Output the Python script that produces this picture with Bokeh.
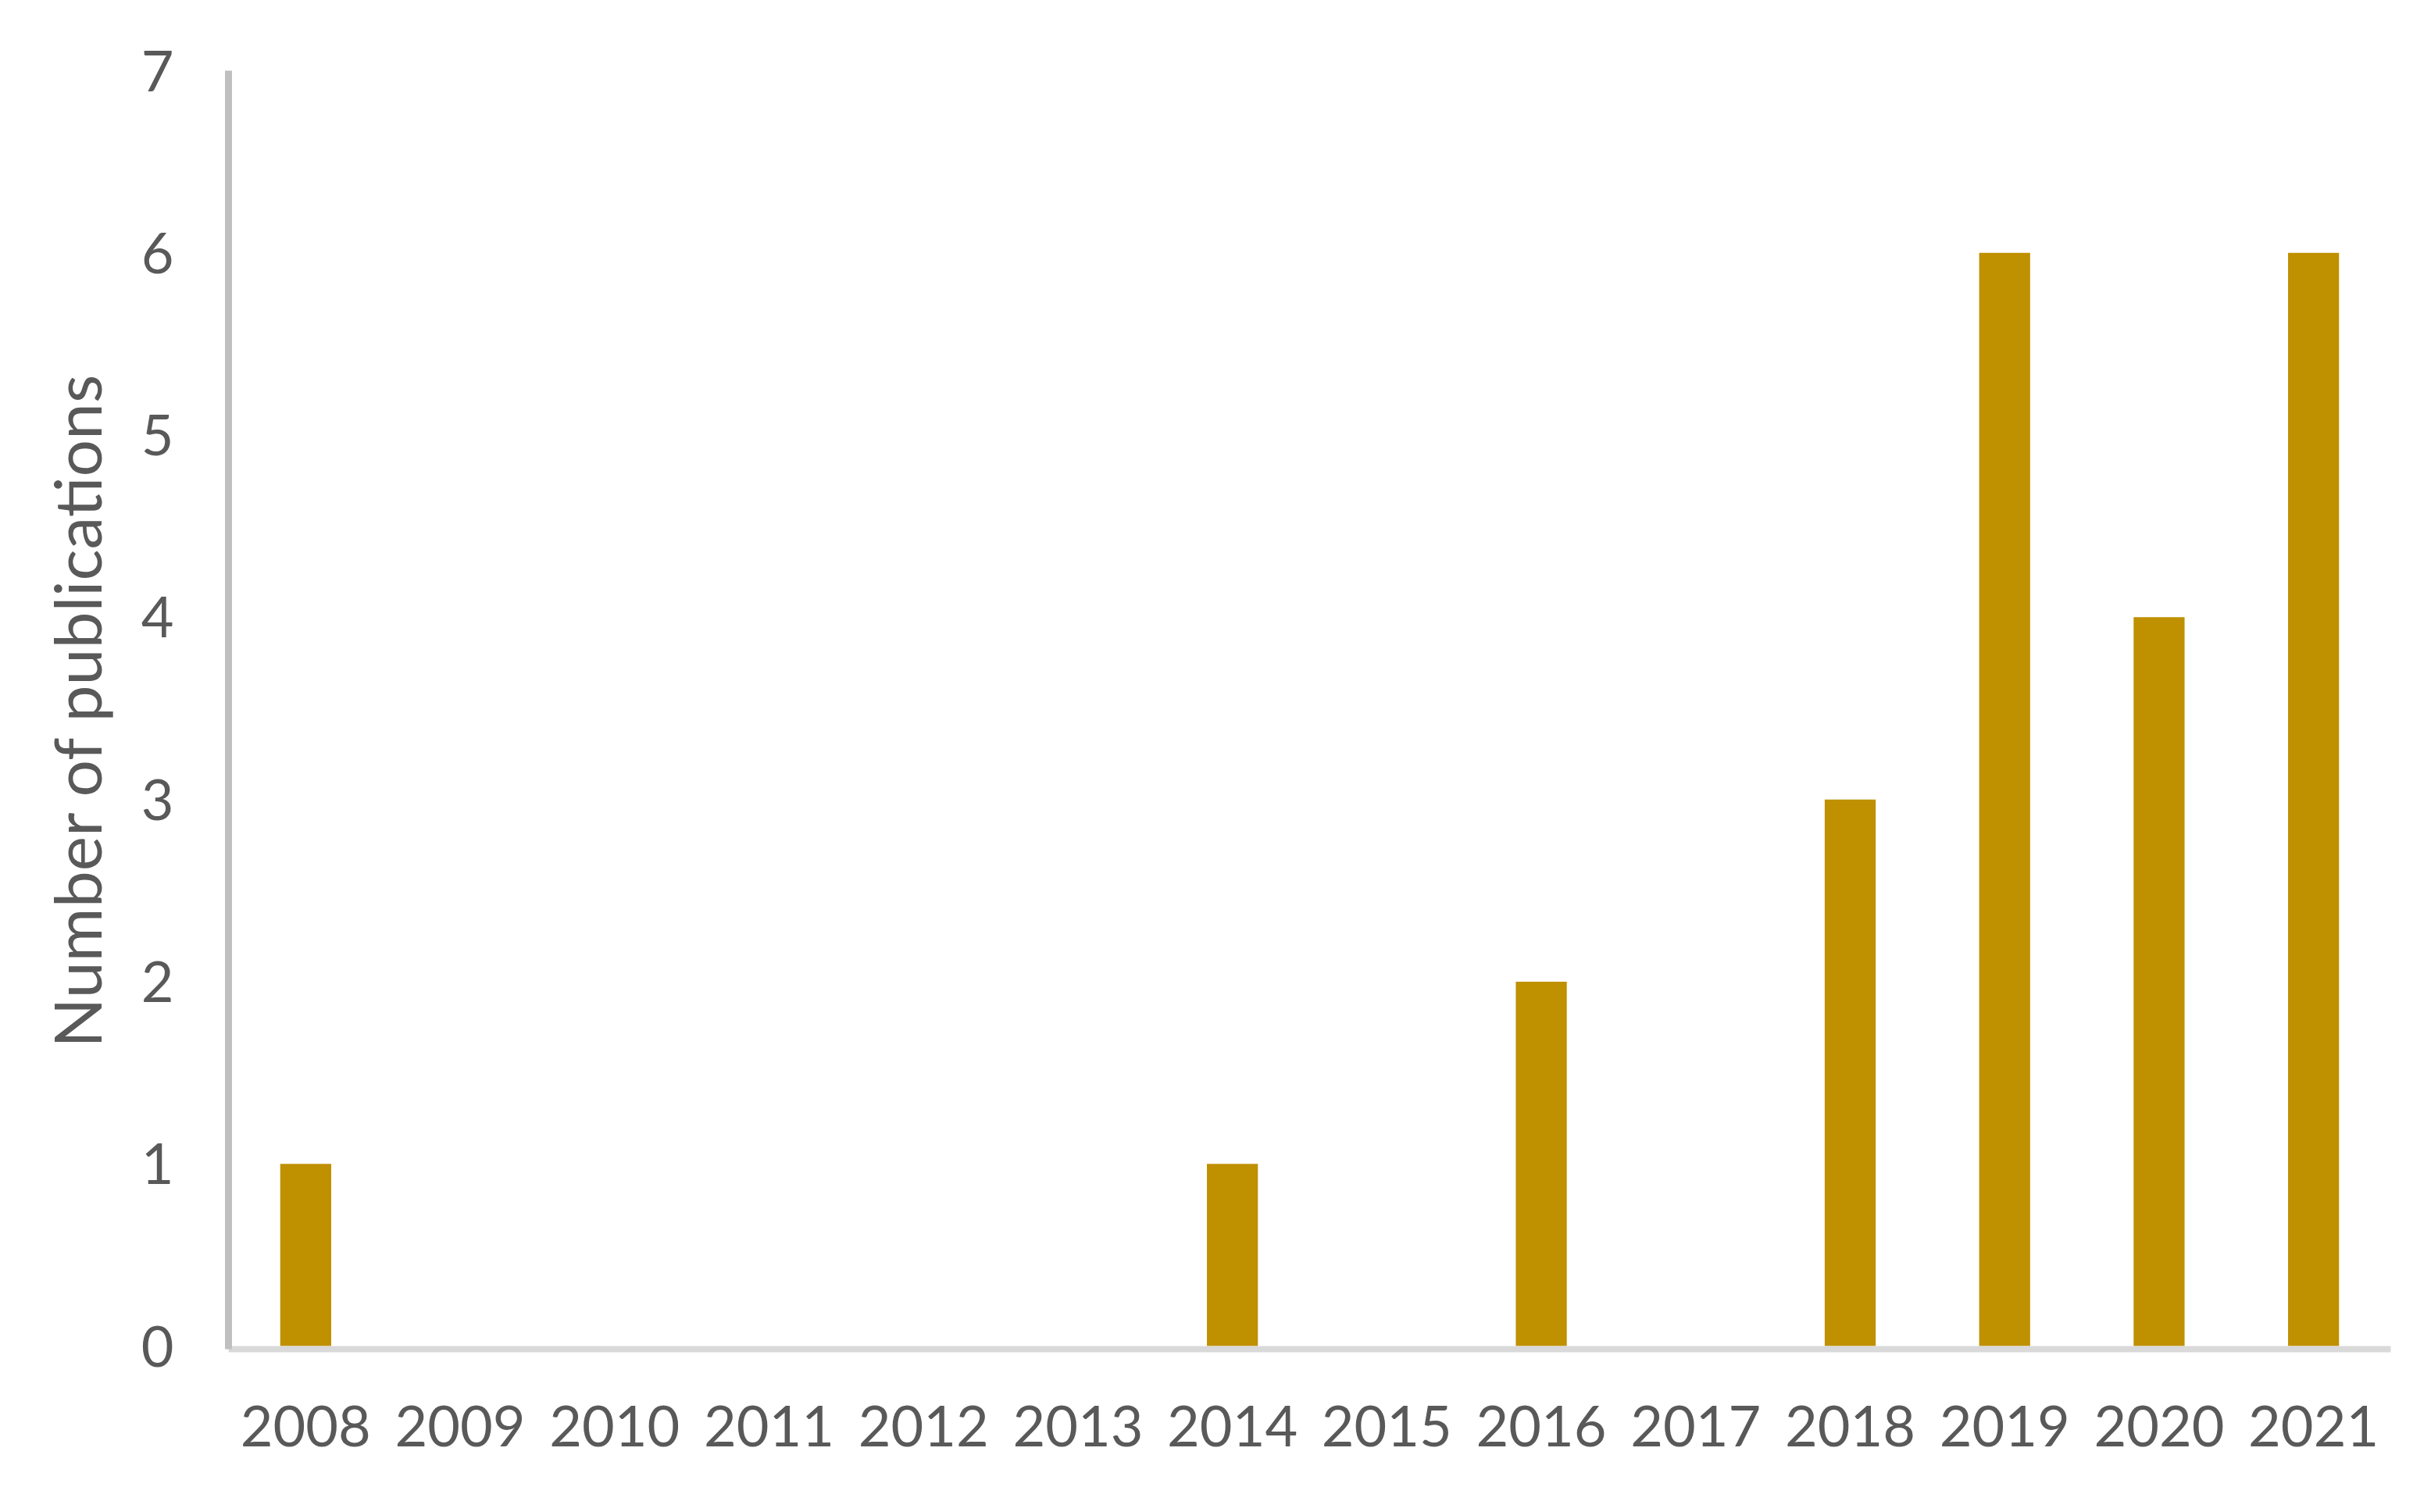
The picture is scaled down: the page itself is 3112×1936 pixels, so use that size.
from bokeh.plotting import figure
from bokeh.models import FactorRange, Range1d, FixedTicker, ColumnDataSource
from bokeh.embed import file_html
from bokeh.resources import INLINE

years = ["2008", "2009", "2010", "2011", "2012", "2013", "2014",
         "2015", "2016", "2017", "2018", "2019", "2020", "2021"]
publications = [1, 0, 0, 0, 0, 0, 1, 0, 2, 0, 3, 6, 4, 6]
y_ticks = [0, 1, 2, 3, 4, 5, 6, 7]

BAR_COLOR = "#BF9000"
TEXT_COLOR = "#595959"
FONT = "Lato"

src = ColumnDataSource(dict(year=years, n=publications))

p = figure(
    width=3096, height=1920,
    x_range=FactorRange(*years, range_padding=0),
    y_range=Range1d(-0.017, 7),
    output_backend="svg", toolbar_location=None,
    min_border_left=292, min_border_right=36,
    min_border_top=90, min_border_bottom=193,
)
p.vbar(x="year", top="n", bottom=0, width=0.33, source=src,
       fill_color=BAR_COLOR, line_color=None)

p.outline_line_color = None
p.xgrid.grid_line_color = None
p.ygrid.grid_line_color = None
p.background_fill_color = "white"
p.border_fill_color = "white"

# y axis
ya = p.yaxis[0]
ya.ticker = FixedTicker(ticks=y_ticks)
ya.axis_line_color = "#BFBFBF"
ya.axis_line_width = 9
ya.major_tick_line_color = None
ya.minor_tick_line_color = None
ya.major_tick_out = 0
ya.major_tick_in = 0
ya.minor_tick_out = 0
ya.major_label_standoff = 70
ya.major_label_text_font = FONT
ya.major_label_text_font_size = "72px"
ya.major_label_text_color = TEXT_COLOR
ya.axis_label = "Number of publications"
ya.axis_label_text_font = FONT
ya.axis_label_text_font_size = "84px"
ya.axis_label_text_font_style = "normal"
ya.axis_label_text_color = TEXT_COLOR
ya.axis_label_standoff = 30

# x axis
xa = p.xaxis[0]
xa.axis_line_color = "#D9D9D9"
xa.axis_line_width = 8
xa.major_tick_line_color = None
xa.minor_tick_line_color = None
xa.major_tick_out = 0
xa.major_tick_in = 0
xa.major_label_standoff = 72
xa.major_label_text_font = FONT
xa.major_label_text_font_size = "72px"
xa.major_label_text_color = TEXT_COLOR

open("out.html", "w").write(file_html(p, INLINE))
